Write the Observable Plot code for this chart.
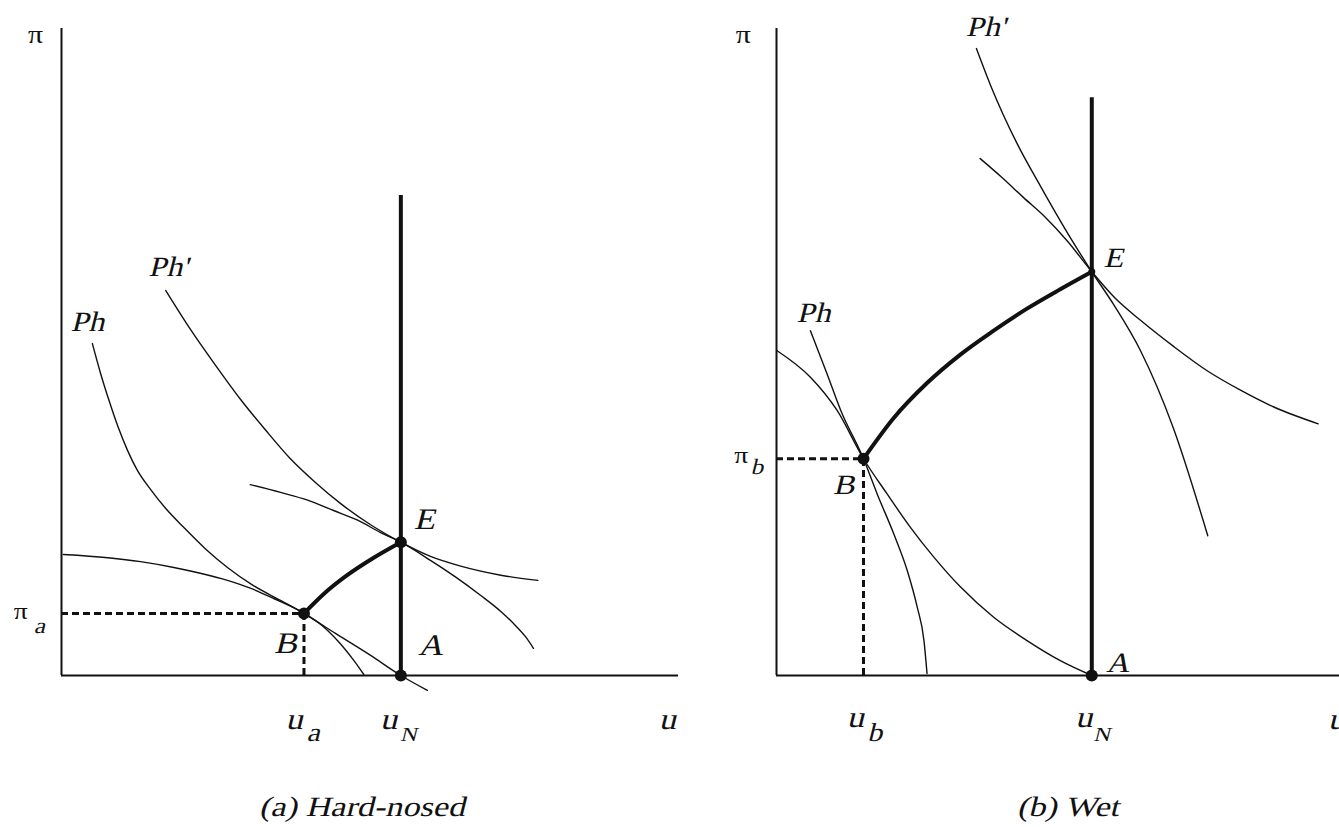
<!DOCTYPE html>
<html>
<head>
<meta charset="utf-8">
<script src="https://cdn.jsdelivr.net/npm/d3@7"></script>
<script src="https://cdn.jsdelivr.net/npm/@observablehq/plot@0.6"></script>
<style>
  html, body { margin: 0; padding: 0; background: #fff; overflow: hidden; width: 1339px; height: 827px; }
  .panel { position: absolute; top: 0; width: 715px; height: 827px; }
  .caption { position: absolute; top: 793px; font-style: normal; line-height: 28px; white-space: nowrap; color: #111;
             transform-origin: 50% 80%; }
</style>
</head>
<body>
<div id="pa" class="panel" style="left:0px"></div>
<div id="pb" class="panel" style="left:700px"></div>
<script>
// ---------- Panel (a) Hard-nosed : values as [u, π] on 0–100 axes ----------
const a_uN = 55.0, a_piE = 20.6, a_uB = 39.3, a_piB = 9.6, a_top = 74.2;
const a_Ph = [[5.0,51.3],[6.3,46.8],[7.6,42.8],[9.1,38.6],[10.7,34.8],[12.3,31.7],[14.4,28.8],[16.9,25.8],
  [19.8,22.9],[23.3,19.6],[26.9,16.7],[31.1,13.9],[35.5,11.6],[39.3,9.6],[44.4,6.5],[50.1,3.1],[55.0,0],[59.3,-2.3]];
const a_I1 = [[0.3,18.7],[7.5,18.2],[12.8,17.6],[18.2,16.7],[22.5,15.8],[26.9,14.7],[30.6,13.5],[34.4,11.9],
  [39.3,9.6],[42.5,7.5],[45.2,4.9],[47.4,2.3],[49.0,0.15]];
const a_PhP = [[16.9,59.5],[20.9,53.5],[25.0,47.9],[29.0,42.7],[33.1,37.9],[37.1,33.5],[41.2,29.8],[45.2,26.6],
  [50.1,23.3],[55.0,20.6],[59.8,18.4],[64.7,16.9],[71.2,15.5],[77.2,14.7]];
const a_I2 = [[30.6,29.5],[35.5,28.3],[39.9,27.1],[44.1,25.5],[48.0,24.0],[51.7,22.1],[55.0,20.6],[59.8,17.8],
  [63.9,15.2],[67.9,12.4],[71.2,9.9],[73.6,7.7],[75.2,6.0],[76.5,4.2]];
const a_path = [[39.3,9.6],[42.5,12.6],[46.3,15.5],[50.6,18.2],[55.0,20.6]];
const a_points = [[55.0,0],[55.0,20.6],[39.3,9.6]];
const a_labels = [
  {t:"π", u:-4.2, p:97.7, s:26, it:false},
  {t:"π", u:-6.6, p:8.8, s:24, it:false}, {t:"a", u:-3.6, p:6.5, s:22, it:true},
  {t:"Ph", u:4.2, p:53.3, s:28, it:true}, {t:"Ph'", u:17.3, p:61.8, s:28, it:true},
  {t:"E", u:58.8, p:22.6, s:30, it:true}, {t:"A", u:59.8, p:3.1, s:30, it:true}, {t:"B", u:36.3, p:3.5, s:30, it:true},
  {t:"u", u:37.7, p:-8.2, s:30, it:true}, {t:"a", u:40.8, p:-10.1, s:26, it:true},
  {t:"u", u:53.0, p:-8.2, s:30, it:true}, {t:"N", u:56.2, p:-10.1, s:20, it:true},
  {t:"u", u:98.2, p:-8.2, s:30, it:true}
];

// ---------- Panel (b) Wet ----------
const b_uN = 51.1, b_piE = 62.4, b_uB = 14.1, b_piB = 33.5, b_top = 89.3;
const b_Ph = [[5.5,53.3],[8.2,46.6],[10.4,41.0],[14.1,33.5],[16.3,28.1],[19.0,21.9],[21.2,16.2],[22.8,10.6],[23.9,5.4],[24.4,0.3]];
const b_I1 = [[0.1,50.2],[5.5,46.1],[9.8,41.0],[14.1,33.5],[17.9,28.1],[21.7,22.9],[25.5,18.3],[29.8,13.7],
  [35.2,9.0],[40.6,5.4],[46.0,2.3],[51.1,0]];
const b_PhP = [[32.4,96.9],[34.7,91.2],[39.0,82.2],[42.8,75.6],[47.1,68.5],[51.1,62.4],[54.6,57.4],[59.0,50.2],[64.3,38.3],[69.9,21.6]];
const b_I2 = [[33.0,79.9],[36.5,77.0],[40.0,73.9],[43.6,70.8],[47.1,67.2],[51.1,62.4],[54.9,58.3],[59.0,54.9],
  [64.3,50.9],[69.8,47.1],[75.2,44.1],[80.6,41.5],[87.8,38.9]];
const b_path = [[14.1,33.5],[19.0,39.8],[24.4,45.2],[29.8,49.6],[35.2,53.3],[40.6,56.7],[46.0,59.7],[51.1,62.4]];
const b_points = [[51.1,0],[14.1,33.5]];
const b_pointE = [[51.1,62.4]];
const b_labels = [
  {t:"π", u:-5.4, p:97.7, s:26, it:false},
  {t:"π", u:-5.7, p:32.8, s:24, it:false}, {t:"b", u:-3.2, p:31.2, s:22, it:true},
  {t:"Ph", u:6.0, p:54.6, s:28, it:true}, {t:"Ph'", u:33.9, p:98.9, s:28, it:true},
  {t:"E", u:54.6, p:63.1, s:28, it:true}, {t:"A", u:55.3, p:0.6, s:28, it:true}, {t:"B", u:10.9, p:28.1, s:28, it:true},
  {t:"u", u:12.8, p:-8.0, s:30, it:true}, {t:"b", u:15.9, p:-10.1, s:26, it:true},
  {t:"u", u:49.8, p:-8.0, s:30, it:true}, {t:"N", u:52.7, p:-10.1, s:20, it:true},
  {t:"u", u:90.8, p:-8.2, s:30, it:true}
];

// ---------- pick an installed serif face ----------
function hasFont(name) {
  const c = document.createElement("canvas").getContext("2d");
  const s = "Hard-nosed WwMmIil 0123";
  for (const base of ["monospace", "sans-serif"]) {
    c.font = `40px ${base}`; const w0 = c.measureText(s).width;
    c.font = `40px "${name}", ${base}`; const w1 = c.measureText(s).width;
    if (w0 !== w1) return true;
  }
  return false;
}
const SERIFS = ["Liberation Serif", "DejaVu Serif", "Noto Serif", "Tinos", "Times New Roman"];
const FACE = SERIFS.find(hasFont) || "serif";
const FONT = FACE === "serif" ? "serif" : `"${FACE}", serif`;
const WIDE = FACE === "DejaVu Serif";          // DejaVu Serif is already wide
const K = WIDE ? 1.0 : 1.15;                   // horizontal stretch of glyphs
const FS = WIDE ? 0.88 : 1.0;                  // size factor

const INK = "#111";
const X = d => d[0], Y = d => d[1];

function panel(opt) {
  const thin = (data) => Plot.line(data, {x: X, y: Y, stroke: INK, strokeWidth: 1.4, curve: "monotone-x"});
  const marks = [
    Plot.ruleY([0], {x1: 0, x2: 100, stroke: INK, strokeWidth: 2}),
    Plot.ruleX([0], {y1: 0, y2: 100, stroke: INK, strokeWidth: 2}),
    Plot.ruleY([opt.piB], {x1: 0, x2: opt.uB, stroke: INK, strokeWidth: 3, strokeDasharray: "7,4"}),
    Plot.ruleX([opt.uB], {y1: 0, y2: opt.piB, stroke: INK, strokeWidth: 3, strokeDasharray: "7,4"}),
    ...opt.curves.map(thin),
    Plot.ruleX([opt.uN], {y1: 0, y2: opt.top, stroke: INK, strokeWidth: 4}),
    Plot.line(opt.path, {x: X, y: Y, stroke: INK, strokeWidth: 4, curve: "monotone-x"}),
    Plot.dot(opt.points, {x: X, y: Y, r: 6, fill: INK}),
    ...(opt.extraDots || []),
    ...[false, true].map(it => Plot.text(opt.labels.filter(d => d.it === it), {
      x: "u", y: "p", text: "t", fontSize: d => d.s * FS, lineAnchor: "bottom", textAnchor: "middle",
      fill: INK, fontFamily: FONT, className: it ? "slant" : "upright"
    }))
  ];
  return Plot.plot({
    width: 715, height: 760,
    marginLeft: opt.ml, marginRight: 715 - opt.ml - 617, marginTop: 28, marginBottom: 85,
    x: {domain: [0, 100], axis: null},
    y: {domain: [0, 100], axis: null},
    style: {background: "transparent", overflow: "visible", fontFamily: FONT},
    marks
  });
}

// widen the glyphs like the reference and slant the italic labels
function styleText(svg, k) {
  svg.querySelectorAll("text").forEach(t => {
    const slant = t.closest(".slant");
    const L = t.getComputedTextLength();
    if (L > 0 && k !== 1) { t.setAttribute("textLength", (L * k).toFixed(2)); t.setAttribute("lengthAdjust", "spacingAndGlyphs"); }
    if (slant) {
      const x = +(t.getAttribute("x") || 0), y = +(t.getAttribute("y") || 0);
      const tr = t.getAttribute("transform") || "";
      t.setAttribute("transform", `${tr} translate(${x},${y}) skewX(-14) translate(${-x},${-y})`);
    }
  });
}

const svgA = panel({ml: 61, uN: a_uN, top: a_top, uB: a_uB, piB: a_piB,
  curves: [a_Ph, a_I1, a_PhP, a_I2], path: a_path, points: a_points, labels: a_labels});
const svgB = panel({ml: 76, uN: b_uN, top: b_top, uB: b_uB, piB: b_piB,
  curves: [b_Ph, b_I1, b_PhP, b_I2], path: b_path, points: b_points, labels: b_labels,
  extraDots: [Plot.dot(b_pointE, {x: X, y: Y, r: 3.5, fill: INK})]});

const pa = document.getElementById("pa"), pb = document.getElementById("pb");
pa.appendChild(svgA); pb.appendChild(svgB);
styleText(svgA, K); styleText(svgB, K);

function caption(parent, left, text) {
  const d = document.createElement("div");
  d.className = "caption"; d.style.left = left + "px"; d.textContent = text;
  d.style.fontFamily = FONT; d.style.fontSize = (28 * FS) + "px";
  d.style.transform = `translateX(-50%) skewX(-14deg) scaleX(${WIDE ? 1.08 : 1.22})`;
  parent.appendChild(d);
}
caption(pa, 362, "(a) Hard-nosed");
caption(pb, 368, "(b) Wet");
</script>
</body>
</html>
